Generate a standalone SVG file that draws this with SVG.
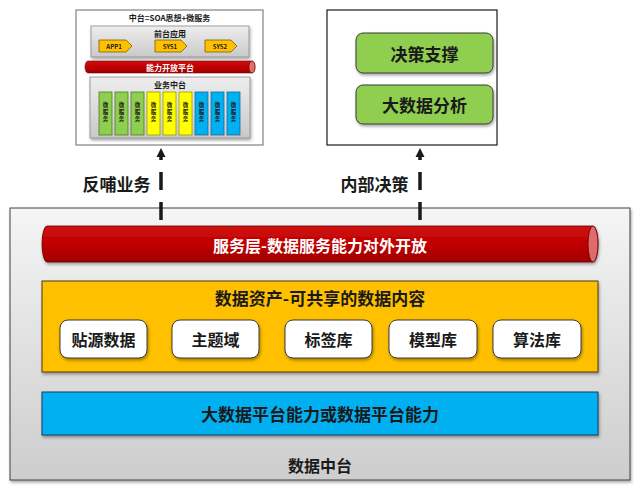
<svg xmlns="http://www.w3.org/2000/svg" width="640" height="491" viewBox="0 0 640 491">
<style>
text{font-family:"Noto Sans CJK SC","Noto Sans",sans-serif;font-weight:bold;text-anchor:middle;dominant-baseline:central;fill:#1a1a1a}
.w{fill:#ffffff}
.t16{font-size:16px}
.t17{font-size:17px}
.s8{font-size:8px}
.s6{font-size:6px}
.s5{font-size:5.5px}
.card{fill:#ffffff;stroke:#3a3a3a;stroke-width:1}
.gcard{fill:#8fce4f;stroke:#3a3a3a;stroke-width:1}
.ms{stroke-width:0.8}
.g{fill:#8fce4f;stroke:#4f7a28}
.y{fill:#ffff00;stroke:#9a9a00}
.b{fill:#00b0f0;stroke:#1f6a9a}
.tag{fill:#ffc000;stroke:#7f6000;stroke-width:0.8}
.conn{stroke:#1a1a1a;stroke-width:3.5;fill:none;stroke-dasharray:18 12}
</style>
<defs>
<linearGradient id="gray" x1="0" y1="0" x2="0" y2="1"><stop offset="0" stop-color="#f5f5f5"/><stop offset="1" stop-color="#cdcdcd"/></linearGradient>
<linearGradient id="gray2" x1="0" y1="0" x2="0" y2="1"><stop offset="0" stop-color="#eeeeee"/><stop offset="1" stop-color="#c9c9c9"/></linearGradient>
<linearGradient id="red" x1="0" y1="0" x2="0" y2="1"><stop offset="0" stop-color="#d01010"/><stop offset="0.5" stop-color="#c00000"/><stop offset="1" stop-color="#a00000"/></linearGradient>
<filter id="sh" x="-5%" y="-5%" width="110%" height="120%"><feDropShadow dx="1" dy="2" stdDeviation="1.5" flood-color="#000" flood-opacity="0.35"/></filter>
<marker id="ah" markerUnits="userSpaceOnUse" markerWidth="10" markerHeight="10" refX="0" refY="5" orient="auto"><path d="M0,0.5 L9,5 L0,9.5 Z" fill="#1a1a1a"/></marker>
</defs>

<g id="soa-diagram">
<rect x="76" y="10" width="187" height="135" fill="#ffffff" stroke="#808080" stroke-width="1.2"/>
<text class="s8" x="169.5" y="17">中台=SOA思想+微服务</text>
<rect x="91" y="26" width="158" height="31" fill="url(#gray2)" stroke="#8a8a8a" stroke-width="0.8" filter="url(#sh)"/>
<text class="s8" x="170" y="33">前台应用</text>
<polygon class="tag" points="99,40 126,40 132,46 126,52 99,52"/>
<text class="s6" x="114" y="46">APP1</text>
<polygon class="tag" points="155,40 181,40 187,46 181,52 155,52"/>
<text class="s6" x="170" y="46">SYS1</text>
<polygon class="tag" points="205,40 231,40 237,46 231,52 205,52"/>
<text class="s6" x="220" y="46">SYS2</text>
<path d="M88,61 H252 A3,6 0 0 1 252,73 H88 A3,6 0 0 1 88,61 Z" fill="url(#red)" stroke="#700000" stroke-width="0.6"/>
<ellipse cx="252" cy="67" rx="3" ry="6" fill="#e07070" stroke="#700000" stroke-width="0.6"/>
<text class="s8 w" x="170" y="67">能力开放平台</text>
<rect x="90" y="77" width="160" height="61" fill="url(#gray2)" stroke="#8a8a8a" stroke-width="0.8" filter="url(#sh)"/>
<text class="s8" x="170" y="84">业务中台</text>
<g class="ms">
<rect class="g" x="99" y="92" width="13" height="43"/>
<rect class="g" x="115" y="92" width="13" height="43"/>
<rect class="g" x="131" y="92" width="13" height="43"/>
<rect class="y" x="147" y="92" width="13" height="43"/>
<rect class="y" x="163" y="92" width="13" height="43"/>
<rect class="y" x="179" y="92" width="13" height="43"/>
<rect class="b" x="195" y="92" width="13" height="43"/>
<rect class="b" x="211" y="92" width="13" height="43"/>
<rect class="b" x="227" y="92" width="13" height="43"/>
</g>
<g class="s5">
<text x="105.5" y="104.5">微</text><text x="105.5" y="111.5">服</text><text x="105.5" y="118.5">务</text>
<text x="121.5" y="104.5">微</text><text x="121.5" y="111.5">服</text><text x="121.5" y="118.5">务</text>
<text x="137.5" y="104.5">微</text><text x="137.5" y="111.5">服</text><text x="137.5" y="118.5">务</text>
<text x="153.5" y="104.5">微</text><text x="153.5" y="111.5">服</text><text x="153.5" y="118.5">务</text>
<text x="169.5" y="104.5">微</text><text x="169.5" y="111.5">服</text><text x="169.5" y="118.5">务</text>
<text x="185.5" y="104.5">微</text><text x="185.5" y="111.5">服</text><text x="185.5" y="118.5">务</text>
<text x="201.5" y="104.5">微</text><text x="201.5" y="111.5">服</text><text x="201.5" y="118.5">务</text>
<text x="217.5" y="104.5">微</text><text x="217.5" y="111.5">服</text><text x="217.5" y="118.5">务</text>
<text x="233.5" y="104.5">微</text><text x="233.5" y="111.5">服</text><text x="233.5" y="118.5">务</text>
</g>
</g>

<g id="decision-box">
<rect x="327" y="10" width="170" height="135" fill="#ffffff" stroke="#1a1a1a" stroke-width="1.2"/>
</g>
<g id="node-juece">
<rect class="gcard" x="356" y="33" width="137" height="40" rx="7" filter="url(#sh)"/>
<text class="t17" x="424.5" y="53">决策支撑</text>
</g>
<g id="node-fenxi">
<rect class="gcard" x="356" y="85" width="137" height="39" rx="7" filter="url(#sh)"/>
<text class="t17" x="424.5" y="104.5">大数据分析</text>
</g>

<g id="data-middle">
<rect x="10" y="208" width="620" height="272" fill="url(#gray)" stroke="#404040" stroke-width="1" filter="url(#sh)"/>
<text class="t16" x="320" y="465">数据中台</text>
</g>

<g id="service-layer">
<path d="M47,226 H593 A5,18 0 0 1 593,262 H47 A5,18 0 0 1 47,226 Z" fill="url(#red)" stroke="#600000" stroke-width="0.8" filter="url(#sh)"/>
<ellipse cx="593" cy="244" rx="5" ry="18" fill="#df6b6b" stroke="#600000" stroke-width="0.8"/>
<text class="t16 w" x="320" y="245">服务层-数据服务能力对外开放</text>
</g>

<g id="data-assets">
<rect x="42" y="281" width="556" height="91" fill="#ffc000" stroke="#4a3a00" stroke-width="1" filter="url(#sh)"/>
<text class="t17" x="320" y="297">数据资产-可共享的数据内容</text>
</g>
<g id="node-tieyuan"><rect class="card" x="60" y="320" width="87" height="38" rx="8" filter="url(#sh)"/><text class="t16" x="103.5" y="339">贴源数据</text></g>
<g id="node-zhuti"><rect class="card" x="172" y="320" width="87" height="38" rx="8" filter="url(#sh)"/><text class="t16" x="215.5" y="339">主题域</text></g>
<g id="node-biaoqian"><rect class="card" x="285" y="320" width="87" height="38" rx="8" filter="url(#sh)"/><text class="t16" x="328.5" y="339">标签库</text></g>
<g id="node-moxing"><rect class="card" x="389" y="320" width="88" height="38" rx="8" filter="url(#sh)"/><text class="t16" x="433" y="339">模型库</text></g>
<g id="node-suanfa"><rect class="card" x="493" y="320" width="88" height="38" rx="8" filter="url(#sh)"/><text class="t16" x="537" y="339">算法库</text></g>

<g id="platform">
<rect x="42" y="392" width="556" height="43" fill="#00b0f0" stroke="#1a3a5a" stroke-width="1" filter="url(#sh)"/>
<text class="t17" x="320" y="413">大数据平台能力或数据平台能力</text>
</g>

<g id="connectors">
<path class="conn" d="M161,220 V157" marker-end="url(#ah)"/>
<path class="conn" d="M420,220 V157" marker-end="url(#ah)"/>
<text class="t17" x="116.5" y="183">反哺业务</text>
<text class="t17" x="374.5" y="183">内部决策</text>
</g>
</svg>
